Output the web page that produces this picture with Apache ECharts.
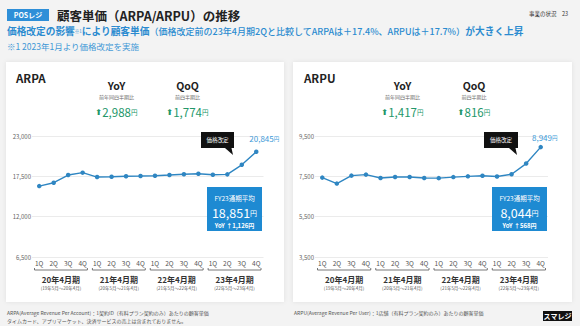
<!DOCTYPE html>
<html><head><meta charset="utf-8">
<script src="https://cdn.jsdelivr.net/npm/echarts@6/dist/echarts.min.js"></script>
<style>html,body{margin:0;padding:0;background:#f3f3f3;}#c{width:580px;height:326px;}</style>
</head><body><div id="c"></div>
<script>
const quarters = ['1Q','2Q','3Q','4Q','1Q','2Q','3Q','4Q','1Q','2Q','3Q','4Q','1Q','2Q','3Q','4Q'];
const fiscalYears = ['20年4月期','21年4月期','22年4月期','23年4月期'];
const fiscalPeriods = ['(19年5月～20年4月)','(20年5月～21年4月)','(21年5月～22年4月)','(22年5月～23年4月)'];
const arpa = [16170, 16630, 17680, 18000, 17400, 17450, 17520, 17540, 17570, 17680, 17793, 17857, 17720, 17768, 19071, 20845];
const arpu = [7436, 7140, 7535, 7585, 7420, 7470, 7470, 7420, 7410, 7462, 7500, 7532, 7490, 7604, 8133, 8949];
const arpaAxis = {min: 6500, max: 23000, interval: 5500};
const arpuAxis = {min: 3500, max: 9500, interval: 2000};

const FF = '"Noto Sans CJK JP", "Noto Sans", sans-serif';
const BLUE = '#2b8bd0';
const LINE = '#2f86c2';
const GREEN = '#23976a';

const chart = echarts.init(document.getElementById('c'), null, {renderer: 'svg'});

function T(x, y, text, size, color, weight, align, extra) {
  return {type: 'text', x: x, y: y, z: 20, silent: true,
    style: Object.assign({text: text, fontSize: size, fill: color, fontWeight: weight || 'normal', fontFamily: FF,
      align: align || 'left', verticalAlign: 'middle', textAlign: align || 'left', textVerticalAlign: 'middle'}, extra || {})};
}
function R(x, y, w, h, fill, extra) {
  return Object.assign({type: 'rect', z: 15, silent: true, shape: {x: x, y: y, width: w, height: h}, style: {fill: fill}}, extra || {});
}
function kpi(cx, label, sub, val) {
  return [
    T(cx, 85, label, 10.5, '#222', 'bold', 'center'),
    T(cx, 96.5, sub, 5, '#666', 'normal', 'center'),
    T(cx, 112, '{a|⬆}{n|' + val + '}{u|円}', 11, GREEN, 'normal', 'center', {rich: {
      a: {fontSize: 8, fill: GREEN, fontFamily: 'DejaVu Sans', fontWeight: 'bold'},
      n: {fontSize: 11.5, fill: GREEN, fontFamily: FF},
      u: {fontSize: 6.5, fill: GREEN, fontFamily: FF}}})
  ];
}
function callout(x, y, w, h) {
  return [
    R(x, y, w, h, '#111'),
    {type: 'polygon', z: 15, silent: true, shape: {points: [[x + w - 9, y + h], [x + w - 2.5, y + h], [x + w - 1, y + h + 7]]}, style: {fill: '#111'}},
    T(x + w / 2, y + h / 2, '価格改定', 5.5, '#fff', 'normal', 'center', {})
  ];
}
function fyBox(x, y, w, h, avg, yoy) {
  const cx = x + w / 2;
  return [
    R(x, y, w, h, '#1e8ad2'),
    T(cx, y + 10.5, 'FY23通期平均', 6.5, '#fff', 'normal', 'center', {lineHeight: 8}),
    T(cx, y + 25.5, '{n|' + avg + '}{u|円}', 12, '#fff', 'normal', 'center', {rich: {
      n: {fontSize: 12.5, fill: '#fff', fontFamily: FF, lineHeight: 12},
      u: {fontSize: 7, fill: '#fff', fontFamily: FF, lineHeight: 12}}}),
    T(cx, y + 38, 'YoY ↑' + yoy + '円', 6, '#fff', 'bold', 'center', {lineHeight: 7})
  ];
}

const graphics = [].concat(
  [R(6, 62, 278, 240, '#fff', {z: -10, style: {fill: '#fff', shadowBlur: 4, shadowColor: 'rgba(0,0,0,0.08)'}}),
   R(293, 62, 279, 240, '#fff', {z: -10, style: {fill: '#fff', shadowBlur: 4, shadowColor: 'rgba(0,0,0,0.08)'}}),
   R(7, 9, 42, 12, '#2e8fd8'),
   T(28, 15, 'POSレジ', 7, '#fff', 'bold', 'center'),
   T(57, 15, '顧客単価（ARPA/ARPU）の推移', 12.5, '#222', 'bold', 'left'),
   T(568, 14, '事業の状況　23', 5.5, '#333', 'normal', 'right'),
   T(7, 31, '{m|価格改定の影響}{s|※1}{m|により顧客単価}{p|（価格改定前の23年4月期2Qと比較してARPAは＋17.4%、ARPUは＋17.7%）}{m|が大きく上昇}', 9, BLUE, 'bold', 'left', {rich: {
     m: {fontSize: 9.7, fontWeight: 'bold', fill: BLUE, fontFamily: FF},
     s: {fontSize: 4.5, fill: BLUE, fontFamily: FF},
     p: {fontSize: 9, fontWeight: 500, fill: BLUE, fontFamily: FF}}}),
   T(7, 45.5, '※1 2023年1月より価格改定を実施', 8.5, '#3e97d6', 'normal', 'left'),
   T(16, 78, 'ARPA', 11.5, '#222', 'bold', 'left'),
   T(304, 78, 'ARPU', 11.5, '#222', 'bold', 'left'),
   T(7, 312, 'ARPA(Average Revenue Per Account)：1契約ID（有料プラン契約のみ）あたりの顧客単価', 5, '#555', 'normal', 'left'),
   T(7, 320, 'タイムカード、アプリマーケット、決済サービスの売上は含まれておりません。', 5, '#555', 'normal', 'left'),
   T(294, 312, 'ARPU(Average Revenue Per User)：1店舗（有料プラン契約のみ）あたりの顧客単価', 5, '#555', 'normal', 'left'),
   R(543, 311, 29, 10, '#111'),
   T(557.5, 316, 'スマレジ', 7, '#fff', 'bold', 'center')],
  kpi(116.5, 'YoY', '前年同四半期比', '2,988'),
  kpi(187.5, 'QoQ', '前四半期比', '1,774'),
  kpi(402.5, 'YoY', '前年同四半期比', '1,417'),
  kpi(474, 'QoQ', '前四半期比', '816'),
  callout(201, 132, 33, 16),
  callout(484, 132, 34, 16),
  fyBox(207, 187, 55, 44, '18,851', '1,126'),
  fyBox(492, 187, 55, 44, '8,044', '568')
);

function yAxis(grid, ax) {
  return {type: 'value', gridIndex: grid, min: ax.min, max: ax.max, interval: ax.interval, z: 3,
    axisLabel: {fontSize: 6, color: '#666', margin: 1, fontFamily: FF, formatter: v => v.toLocaleString('en-US')},
    splitLine: {lineStyle: {color: '#e6e6e6', width: 0.8}}, axisLine: {show: false}, axisTick: {show: false}};
}
function xQuarter(grid) {
  return {type: 'category', gridIndex: grid, data: quarters, boundaryGap: true, position: 'bottom', z: 3,
    axisLabel: {fontSize: 6.5, color: '#555', margin: 3, interval: 0, fontFamily: FF},
    axisLine: {show: false}, axisTick: {show: false}, splitLine: {show: false}};
}
function xYear(grid) {
  return {type: 'category', gridIndex: grid, data: fiscalYears, boundaryGap: true, position: 'bottom', z: 3,
    axisLabel: {margin: 17, interval: 0, fontFamily: FF,
      formatter: (v, i) => '{a|' + v + '}\n{b|' + fiscalPeriods[i] + '}',
      rich: {a: {fontSize: 8, fontWeight: 'bold', color: '#333', lineHeight: 10, fontFamily: FF},
             b: {fontSize: 4.5, color: '#555', lineHeight: 7, fontFamily: FF}}},
    axisLine: {show: false}, axisTick: {show: false}, splitLine: {show: false}};
}
function lineSeries(data, xi, yi, labelOffset, labelDist) {
  const last = data.length - 1;
  return {type: 'line', xAxisIndex: xi, yAxisIndex: yi, symbol: 'circle', symbolSize: 4.5, z: 5,
    lineStyle: {color: LINE, width: 1.4}, itemStyle: {color: LINE},
    data: data.map((v, i) => i === last ? {value: v, label: {show: true, position: 'top', distance: labelDist, offset: labelOffset,
      formatter: p => '{n|' + p.value.toLocaleString('en-US') + '}{u|円}',
      rich: {n: {fontSize: 8, color: '#3d9ad8', fontFamily: FF}, u: {fontSize: 5.5, color: '#3d9ad8', fontFamily: FF}}}} : v)};
}
function brackets(xi, yi, ax) {
  return {type: 'custom', xAxisIndex: xi, yAxisIndex: yi, clip: false, silent: true, z: 4,
    data: fiscalYears.map((f, i) => [i, ax.min]),
    renderItem: (params, api) => {
      const p = api.coord([api.value(0), api.value(1)]);
      const w = api.size([1, 0])[0];
      const x0 = p[0] - w / 2 + 2.5, x1 = p[0] + w / 2 - 2.5, y = p[1] + 13;
      return {type: 'polyline', shape: {points: [[x0, y - 2], [x0, y], [x1, y], [x1, y - 2]]},
        style: {stroke: '#555', lineWidth: 0.8, fill: null}};
    }};
}

chart.setOption({
  animation: false,
  backgroundColor: '#f3f3f3',
  textStyle: {fontFamily: FF},
  grid: [{left: 32, top: 136, width: 231.5, height: 121},
         {left: 315, top: 136, width: 233, height: 121}],
  xAxis: [xQuarter(0), xYear(0), xQuarter(1), xYear(1)],
  yAxis: [yAxis(0, arpaAxis), yAxis(1, arpuAxis)],
  series: [lineSeries(arpa, 0, 0, [8, 0], 7), lineSeries(arpu, 2, 1, [4, 0], 3),
           brackets(1, 0, arpaAxis), brackets(3, 1, arpuAxis)],
  graphic: {elements: graphics}
});
</script></body></html>
